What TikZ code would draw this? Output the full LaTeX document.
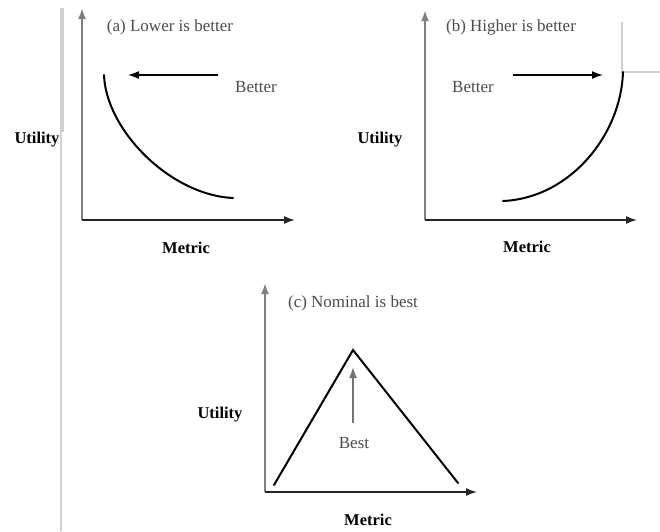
\documentclass[tikz,border=0pt]{standalone}
\usepackage{fontspec}
\setmainfont{Liberation Serif}
\usetikzlibrary{arrows.meta,positioning}

\begin{document}
\begin{tikzpicture}[x=1pt,y=-1pt,
  title/.style={font=\fontsize{17}{20}\selectfont, text=black!70, inner sep=0pt},
  axlbl/.style={font=\fontsize{16.5}{20}\selectfont\bfseries, inner sep=0pt},
  yaxis/.style={line width=2pt, draw=black!50, -{Latex[length=11pt,width=8pt]}},
  xaxis/.style={line width=1.6pt, draw=black!85, -{Latex[length=11pt,width=8pt]}},
  curve/.style={line width=2pt, line cap=round},
  hint/.style={line width=1.5pt, -{Latex[length=11pt,width=8pt]}},
  scan/.style={draw=black!18, line width=1.5pt}
]
\useasboundingbox (0,0) rectangle (660,531);

% Scan marks
\draw[scan] (61,8) -- (61,531);
\draw[scan, line width=3pt] (62,8) -- (62,132);
\draw[scan] (622,22) -- (622,72) -- (660,72);

% Panel (a)
\coordinate (oA) at (82,220);
\coordinate (yA) at (82,8);
\coordinate (xA) at (295,220);
\draw[yaxis] (oA) -- (yA);
\draw[xaxis] (oA) -- (xA);
\node[title] (tA) at (170,27) {(a) Lower is better};
\node[title] (bA) at (256,87) {Better};
\node[axlbl] (uA) at (37,140) {Utility};
\node[axlbl] (mA) at (186,248) {Metric};
\coordinate (cA1) at (104,75);
\coordinate (cA2) at (233,198);
\draw[curve] (cA1) .. controls (106,130) and (170,195) .. (cA2);
\coordinate (hA1) at (218,75);
\coordinate (hA2) at (128,75);
\draw[hint] (hA1) -- (hA2);

% Panel (b)
\coordinate (oB) at (425,220);
\coordinate (yB) at (425,10);
\coordinate (xB) at (637,220);
\draw[yaxis] (oB) -- (yB);
\draw[xaxis] (oB) -- (xB);
\node[title] (tB) at (511,27) {(b) Higher is better};
\node[title] (bB) at (473,87) {Better};
\node[axlbl] (uB) at (380,140) {Utility};
\node[axlbl] (mB) at (527,247) {Metric};
\coordinate (cB1) at (503,201);
\coordinate (cB2) at (623,72);
\draw[curve] (cB1) .. controls (570,198) and (621,135) .. (cB2);
\coordinate (hB1) at (513,75);
\coordinate (hB2) at (603,75);
\draw[hint] (hB1) -- (hB2);

% Panel (c)
\coordinate (oC) at (265,492);
\coordinate (yC) at (265,283);
\coordinate (xC) at (477,492);
\draw[yaxis] (oC) -- (yC);
\draw[xaxis] (oC) -- (xC);
\node[title] (tC) at (353,303) {(c) Nominal is best};
\node[title] (bC) at (354,443) {Best};
\node[axlbl] (uC) at (220,415) {Utility};
\node[axlbl] (mC) at (368,520) {Metric};
\coordinate (pL) at (274,485);
\coordinate (pT) at (353,350);
\coordinate (pR) at (458,483);
\draw[curve] (pL) -- (pT) -- (pR);
\coordinate (hC1) at (353,423);
\coordinate (hC2) at (353,367);
\draw[hint, draw=black!55] (hC1) -- (hC2);
\end{tikzpicture}
\end{document}
